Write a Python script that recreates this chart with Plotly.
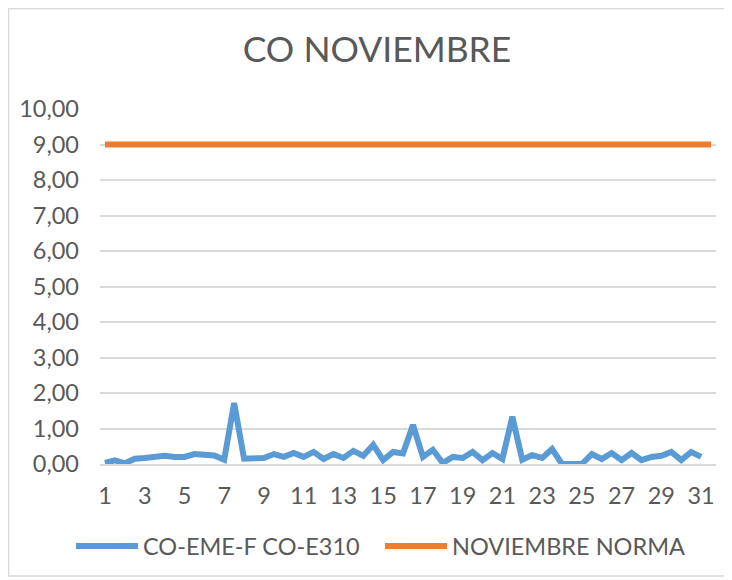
import plotly.graph_objects as go

# two readings per day, category labels every second day
dias = [d for d in range(1, 32) for _ in range(2)]
posiciones = list(range(len(dias)))
tick_pos = posiciones[::4]
tick_txt = [str(dias[p]) for p in tick_pos]

serie_co = "CO-EME-F CO-E310"
serie_norma = "NOVIEMBRE NORMA"

co_valores = [
    0.03, 0.10, 0.02, 0.15, 0.17, 0.20, 0.23, 0.20, 0.20, 0.28,
    0.25, 0.24, 0.12, 1.72, 0.15, 0.16, 0.17, 0.28, 0.20, 0.31,
    0.20, 0.34, 0.14, 0.28, 0.17, 0.37, 0.23, 0.54, 0.11, 0.34,
    0.30, 1.10, 0.20, 0.40, 0.03, 0.20, 0.17, 0.34, 0.11, 0.31,
    0.14, 1.33, 0.12, 0.25, 0.17, 0.42, 0.00, 0.00, 0.00, 0.28,
    0.14, 0.31, 0.11, 0.31, 0.11, 0.20, 0.23, 0.34, 0.11, 0.34,
    0.20, None,
]
norma_valores = [9.00] * len(dias)

COL_AZUL = '#5B9BD5'
COL_NAR = '#ED7D31'
COL_TXT = '#595959'
COL_GRID = '#D9D9D9'
FONT = 'Lato'

fig = go.Figure()
fig.add_trace(go.Scatter(
    x=posiciones, y=co_valores, mode='lines', name=serie_co,
    line=dict(color=COL_AZUL, width=6), connectgaps=False,
))
fig.add_trace(go.Scatter(
    x=posiciones, y=norma_valores, mode='lines', name=serie_norma,
    line=dict(color=COL_NAR, width=6),
))

# the page body adds an 8px offset; work in window pixels
OFF = 8
W, H = 732 - OFF, 580 - OFF
L, R, T, B = 100, 716, 109, 464


def px_x(px):
    return (px - L) / (R - L)


def px_y(py):
    return (B - py) / (B - T)


# outer chart border
fig.add_shape(type='rect', xref='paper', yref='paper',
              x0=px_x(OFF + 0.5), x1=px_x(726), y0=px_y(576), y1=px_y(OFF + 0.5),
              line=dict(color=COL_GRID, width=1.5), layer='below')

# legend drawn by hand to get Excel-like long swatches
leyenda = [(serie_co, COL_AZUL, 76, 138), (serie_norma, COL_NAR, 385, 447)]
for nombre, color, x0, x1 in leyenda:
    fig.add_shape(type='line', xref='paper', yref='paper',
                  x0=px_x(x0), x1=px_x(x1), y0=px_y(546), y1=px_y(546),
                  line=dict(color=color, width=6))
    fig.add_annotation(text=nombre, xref='paper', yref='paper',
                       x=px_x(x1 + 3), y=px_y(546), xanchor='left', yanchor='middle',
                       showarrow=False, font=dict(family=FONT, size=23.5, color=COL_TXT))

fig.update_layout(
    width=W, height=H,
    margin=dict(l=L - OFF, r=732 - R, t=T - OFF, b=580 - B),
    paper_bgcolor='white', plot_bgcolor='white',
    separators=',.',
    showlegend=False,
    title=dict(text='CO NOVIEMBRE', x=(377 - OFF) / W, xanchor='center',
               y=1 - (50 - OFF) / H, yanchor='middle',
               font=dict(family=FONT, size=35.5, color=COL_TXT)),
    font=dict(family=FONT, color=COL_TXT),
)
fig.update_xaxes(
    range=[-0.5, len(dias) - 0.5], tickvals=tick_pos, ticktext=tick_txt,
    showgrid=False, zeroline=False, showline=True, linecolor=COL_GRID, linewidth=1.5,
    tickfont=dict(family=FONT, size=23.5, color=COL_TXT), ticklabelstandoff=10,
)
fig.update_yaxes(
    range=[0, 10], dtick=1, tickformat='.2f',
    showgrid=True, gridcolor=COL_GRID, gridwidth=1.5, zeroline=False,
    tickfont=dict(family=FONT, size=23.5, color=COL_TXT), ticklabelstandoff=20,
)

fig.write_html("out.html")
